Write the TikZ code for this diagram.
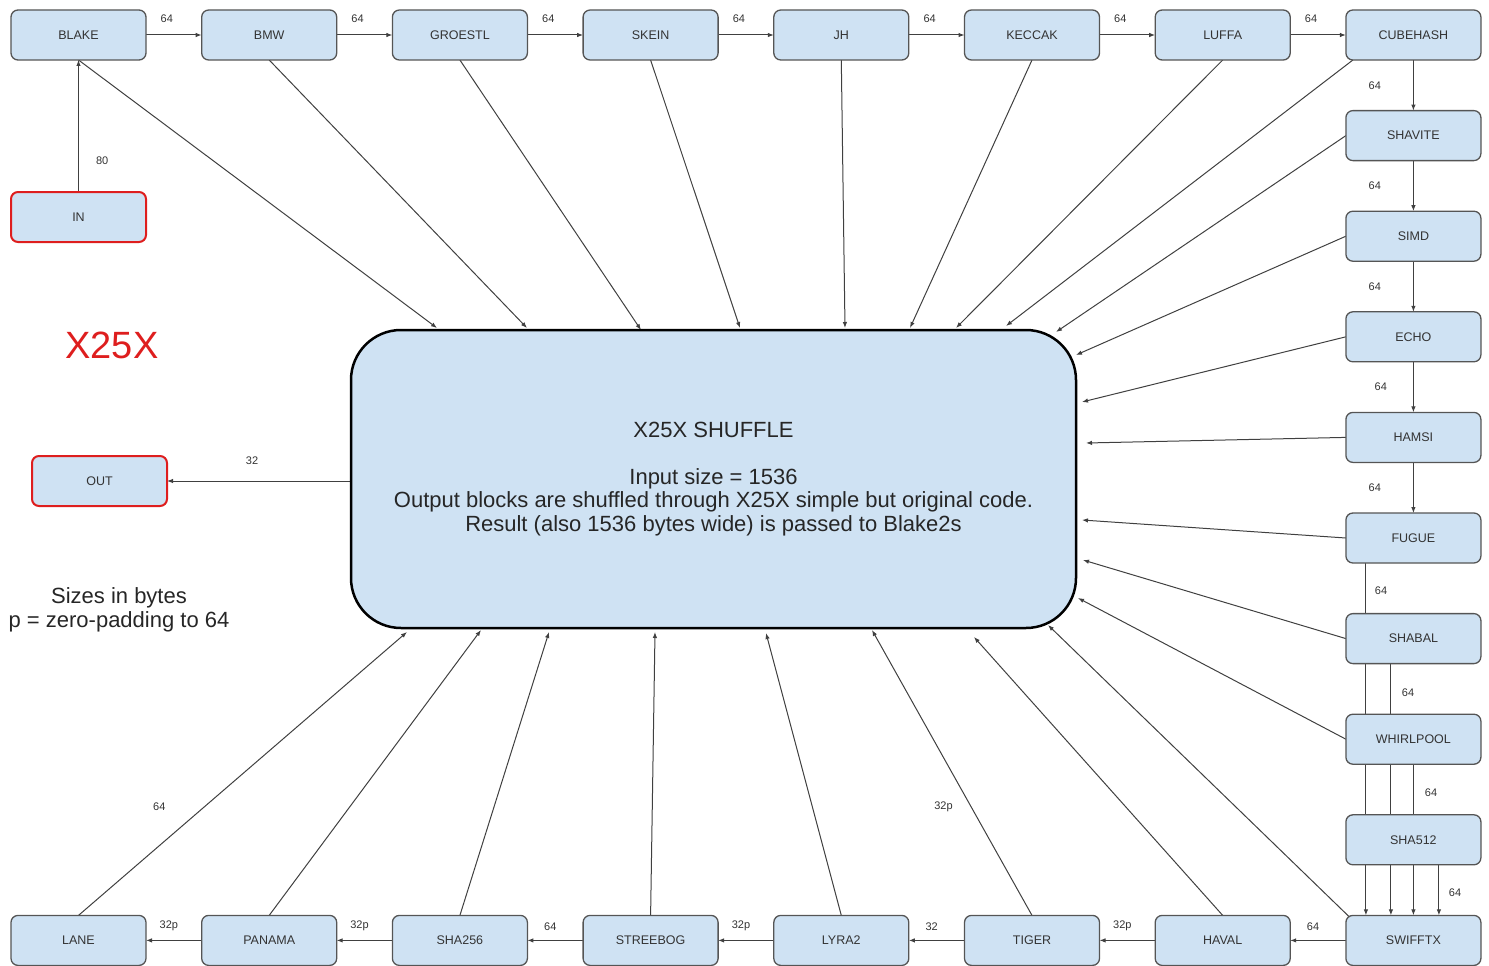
\documentclass[tikz,border=0pt]{standalone}
\usepackage{fontspec}
\setmainfont{Liberation Sans}
\usetikzlibrary{positioning,arrows.meta,backgrounds}
\definecolor{boxfill}{RGB}{207,226,243}
\definecolor{boxline}{RGB}{85,85,85}
\definecolor{inred}{RGB}{222,30,30}
\definecolor{txtgray}{RGB}{51,51,51}

\begin{document}
\begin{tikzpicture}[x=1pt, y=-1pt, node distance=50.6pt and 55.7pt,
    hash/.style = {draw=boxline, line width=1.3pt, fill=boxfill, rounded corners=7pt, outer sep=0pt,
      minimum width=135pt, minimum height=50pt, font=\fontsize{12.5}{14}\selectfont, text=txtgray},
    io/.style = {hash, draw=inred, line width=2pt},
    link/.style = {draw=black!75, line width=1pt, -{Latex[length=6pt,width=4.5pt]}},
    bytes/.style = {font=\fontsize{11}{13}\selectfont, text=txtgray, inner sep=2pt}]

  \useasboundingbox (0,0) rectangle (1489,966);

  % top row
  \node[hash] (blake) at (78.5,35) {BLAKE};
  \node[hash, right=of blake] (bmw) {BMW};
  \node[hash, right=of bmw] (groestl) {GROESTL};
  \node[hash, right=of groestl] (skein) {SKEIN};
  \node[hash, right=of skein] (jh) {JH};
  \node[hash, right=of jh] (keccak) {KECCAK};
  \node[hash, right=of keccak] (luffa) {LUFFA};
  \node[hash, right=of luffa] (cubehash) {CUBEHASH};
  % right column
  \node[hash, below=of cubehash] (shavite) {SHAVITE};
  \node[hash, below=of shavite] (simd) {SIMD};
  \node[hash, below=of simd] (echo) {ECHO};
  \node[hash, below=of echo] (hamsi) {HAMSI};
  \node[hash, below=of hamsi] (fugue) {FUGUE};
  \node[hash, below=of fugue] (shabal) {SHABAL};
  \node[hash, below=of shabal] (whirlpool) {WHIRLPOOL};
  \node[hash, below=of whirlpool] (sha512) {SHA512};
  \node[hash, below=of sha512] (swifftx) {SWIFFTX};
  % bottom row
  \node[hash, left=of swifftx] (haval) {HAVAL};
  \node[hash, left=of haval] (tiger) {TIGER};
  \node[hash, left=of tiger] (lyra2) {LYRA2};
  \node[hash, left=of lyra2] (streebog) {STREEBOG};
  \node[hash, left=of streebog] (sha256) {SHA256};
  \node[hash, left=of sha256] (panama) {PANAMA};
  \node[hash, left=of panama] (lane) {LANE};

  \node[io, below=132pt of blake] (in) {IN};
  \node[io] (out) at (99.5,481) {OUT};

  \node[draw=black, line width=2.5pt, fill=boxfill, rounded corners=50pt, outer sep=0pt,
    minimum width=725pt, minimum height=298pt, align=center,
    font=\fontsize{22}{23.5}\selectfont, text=black!85] (shuffle) at (713.5,479)
    {X25X SHUFFLE\\[23pt]Input size = 1536\\Output blocks are shuffled through X25X simple but original code.\\Result (also 1536 bytes wide) is passed to Blake2s};

  \node[text=inred, font=\fontsize{38}{40}\selectfont] (title) at (112,345) {X25X};
  \node[align=center, font=\fontsize{22}{24}\selectfont, text=black!85] (legend) at (119,610)
    {Sizes in bytes\\p = zero-padding to 64};

  \begin{scope}[on background layer]
    % chain
    \draw[link] (in) -- node[bytes, pos=0.235, right=15pt] {80} (blake);
    \draw[link] (blake) -- node[bytes, above=10pt, xshift=-7pt] {64} (bmw);
    \draw[link] (bmw) -- node[bytes, above=10pt, xshift=-7pt] {64} (groestl);
    \draw[link] (groestl) -- node[bytes, above=10pt, xshift=-7pt] {64} (skein);
    \draw[link] (skein) -- node[bytes, above=10pt, xshift=-7pt] {64} (jh);
    \draw[link] (jh) -- node[bytes, above=10pt, xshift=-7pt] {64} (keccak);
    \draw[link] (keccak) -- node[bytes, above=10pt, xshift=-7pt] {64} (luffa);
    \draw[link] (luffa) -- node[bytes, above=10pt, xshift=-7pt] {64} (cubehash);
    \draw[link] (cubehash) -- node[bytes, left=30pt] {64} (shavite);
    \draw[link] (shavite) -- node[bytes, left=30pt] {64} (simd);
    \draw[link] (simd) -- node[bytes, left=30pt] {64} (echo);
    \draw[link] (echo) -- node[bytes, left=24pt] {64} (hamsi);
    \draw[link] (hamsi) -- node[bytes, left=30pt] {64} (fugue);
    \draw[link] ([xshift=20pt]fugue.south west) -- node[bytes, pos=0.08, right=6.5pt] {64} ([xshift=20pt]swifftx.north west);
    \draw[link] ([xshift=45pt]shabal.south west) -- node[bytes, pos=0.115, right=8.5pt] {64} ([xshift=45pt]swifftx.north west);
    \draw[link] (whirlpool.south) -- node[bytes, pos=0.19, right=9pt] {64} (swifftx.north);
    \draw[link] ([xshift=25.5pt]sha512.south) -- node[bytes, pos=0.56, right=7.5pt] {64} ([xshift=25.5pt]swifftx.north);
    \draw[link] (swifftx) -- node[bytes, above=7pt, xshift=-5pt] {64} (haval);
    \draw[link] (haval) -- node[bytes, above=7pt, xshift=-5pt] {32p} (tiger);
    \draw[link] (tiger) -- node[bytes, above=7pt, xshift=-5pt] {32} (lyra2);
    \draw[link] (lyra2) -- node[bytes, above=7pt, xshift=-5pt] {32p} (streebog);
    \draw[link] (streebog) -- node[bytes, above=7pt, xshift=-5pt] {64} (sha256);
    \draw[link] (sha256) -- node[bytes, above=7pt, xshift=-5pt] {32p} (panama);
    \draw[link] (panama) -- node[bytes, above=7pt, xshift=-5pt] {32p} (lane);
    \draw[link] (shuffle.west |- out.east) -- node[bytes, above=14pt, xshift=-7pt] {32} (out.east);
    % into the shuffle
    \draw[link] (blake.south) -- ([shift={(-276.5,-2)}]shuffle.north);
    \draw[link] (bmw.south) -- ([shift={(-186.5,-2)}]shuffle.north);
    \draw[link] (groestl.south) -- ([shift={(-72.5,0)}]shuffle.north);
    \draw[link] (skein.south) -- ([shift={(26.5,-2)}]shuffle.north);
    \draw[link] (jh.south) -- ([shift={(131.5,-2)}]shuffle.north);
    \draw[link] (keccak.south) -- ([shift={(196.5,-2)}]shuffle.north);
    \draw[link] (luffa.south) -- ([shift={(242.5,-2)}]shuffle.north);
    \draw[link] ([shift={(7,0)}]cubehash.south west) -- ([shift={(292.5,-4)}]shuffle.north);
    \draw[link] (shavite.west) -- ([shift={(-20,2)}]shuffle.north east);
    \draw[link] (simd.west) -- ([shift={(0,25)}]shuffle.north east);
    \draw[link] (echo.west) -- ([shift={(6,-77)}]shuffle.east);
    \draw[link] (hamsi.west) -- ([shift={(10,-36)}]shuffle.east);
    \draw[link] (fugue.west) -- ([shift={(6,41)}]shuffle.east);
    \draw[link] (shabal.west) -- ([shift={(7,81)}]shuffle.east);
    \draw[link] (whirlpool.west) -- ([shift={(2,-30)}]shuffle.south east);
    \draw[link] ([shift={(5,3)}]swifftx.north west) -- ([shift={(-28,-3)}]shuffle.south east);
    \draw[link] (haval.north) -- ([shift={(260.5,9)}]shuffle.south);
    \draw[link] (tiger.north) -- node[bytes, pos=0.38, left=16pt] {32p} ([shift={(158.5,2)}]shuffle.south);
    \draw[link] (lyra2.north) -- ([shift={(52.5,5)}]shuffle.south);
    \draw[link] (streebog.north) -- ([shift={(-58.5,4)}]shuffle.south);
    \draw[link] (sha256.north) -- ([shift={(-164.5,4)}]shuffle.south);
    \draw[link] (panama.north) -- ([shift={(-232.5,2)}]shuffle.south);
    \draw[link] (lane.north) -- node[bytes, pos=0.385, left=37pt] {64} ([shift={(-306.5,4)}]shuffle.south);
  \end{scope}
\end{tikzpicture}
\end{document}
